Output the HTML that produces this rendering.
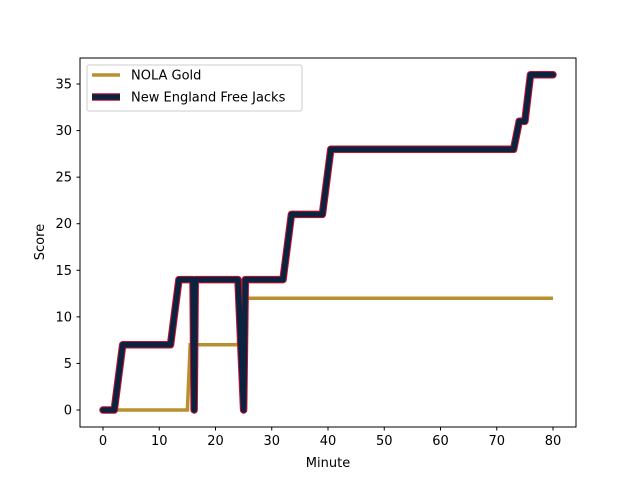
<!DOCTYPE html>
<html><head><meta charset="utf-8"><style>
body{margin:0;background:#fff}
text{font-family:"DejaVu Sans","Liberation Sans",sans-serif;font-size:13px;fill:#000}
</style></head><body>
<svg width="640" height="480" viewBox="0 0 640 480">
<g id="plot"></g>
</svg>
<script>
const nolaMin=[0,15,15.5,24,25,80];
const nolaScore=[0,0,7,7,12,12];
const neMin=[0,2,3.5,12,13.5,16,16.2,16.4,24,25,25.3,32,33.5,39,40.5,73,74,75,76,80];
const neScore=[0,0,7,7,14,14,0,14,14,0,14,14,21,21,28,28,31,31,36,36];
const xTicks=[0,10,20,30,40,50,60,70,80];
const yTicks=[0,5,10,15,20,25,30,35];
const X=t=>103+t*5.625, Y=s=>410-s*9.314;
const NS='http://www.w3.org/2000/svg', g=document.getElementById('plot');
function mk(tag,a,p){const e=document.createElementNS(NS,tag);for(const k in a)e.setAttribute(k,a[k]);(p||g).appendChild(e);return e;}
function pts(xs,ys){return xs.map((t,i)=>X(t)+','+Y(ys[i])).join(' ');}
let l=mk('polyline',{points:pts(nolaMin,nolaScore),fill:'none',stroke:'#b8902f','stroke-width':3.5,'stroke-linejoin':'miter'});


l=mk('polyline',{points:pts(neMin,neScore),fill:'none',stroke:'#c8102e','stroke-width':7.5,'stroke-linejoin':'round','stroke-linecap':'round'});


l=mk('polyline',{points:pts(neMin,neScore),fill:'none',stroke:'#0c2340','stroke-width':5.5,'stroke-linejoin':'round','stroke-linecap':'round'});


let f=mk('rect',{x:80,y:58,width:496,height:369,fill:'none',stroke:'#000','stroke-width':1});


xTicks.forEach(v=>{mk('line',{x1:X(v),x2:X(v),y1:427,y2:430.5,stroke:'#000'});
 const t=mk('text',{x:X(v),y:445,'text-anchor':'middle'});t.textContent=v;
 
 });
yTicks.forEach(v=>{mk('line',{x1:76.5,x2:80,y1:Y(v),y2:Y(v),stroke:'#000'});
 const t=mk('text',{x:72,y:Y(v)+4.5,'text-anchor':'end'});t.textContent=v;
 
 });
let t=mk('text',{x:328,y:467,'text-anchor':'middle'});t.textContent='Minute';


t=mk('text',{x:44,y:242,'text-anchor':'middle',transform:'rotate(-90 44 242)'});t.textContent='Score';


const lg=mk('g',{});


mk('rect',{x:87,y:65,width:215,height:46,rx:2,fill:'#fff','fill-opacity':0.8,stroke:'#ccc'},lg);
mk('line',{x1:92,x2:120,y1:75,y2:75,stroke:'#b8902f','stroke-width':3.5},lg);
mk('line',{x1:92,x2:120,y1:97,y2:97,stroke:'#c8102e','stroke-width':7.5},lg);
mk('line',{x1:92,x2:120,y1:97,y2:97,stroke:'#0c2340','stroke-width':5.5},lg);
t=mk('text',{x:131,y:79.5},lg);t.textContent='NOLA Gold';


t=mk('text',{x:131,y:101.5},lg);t.textContent='New England Free Jacks';


</script>
</body></html>
